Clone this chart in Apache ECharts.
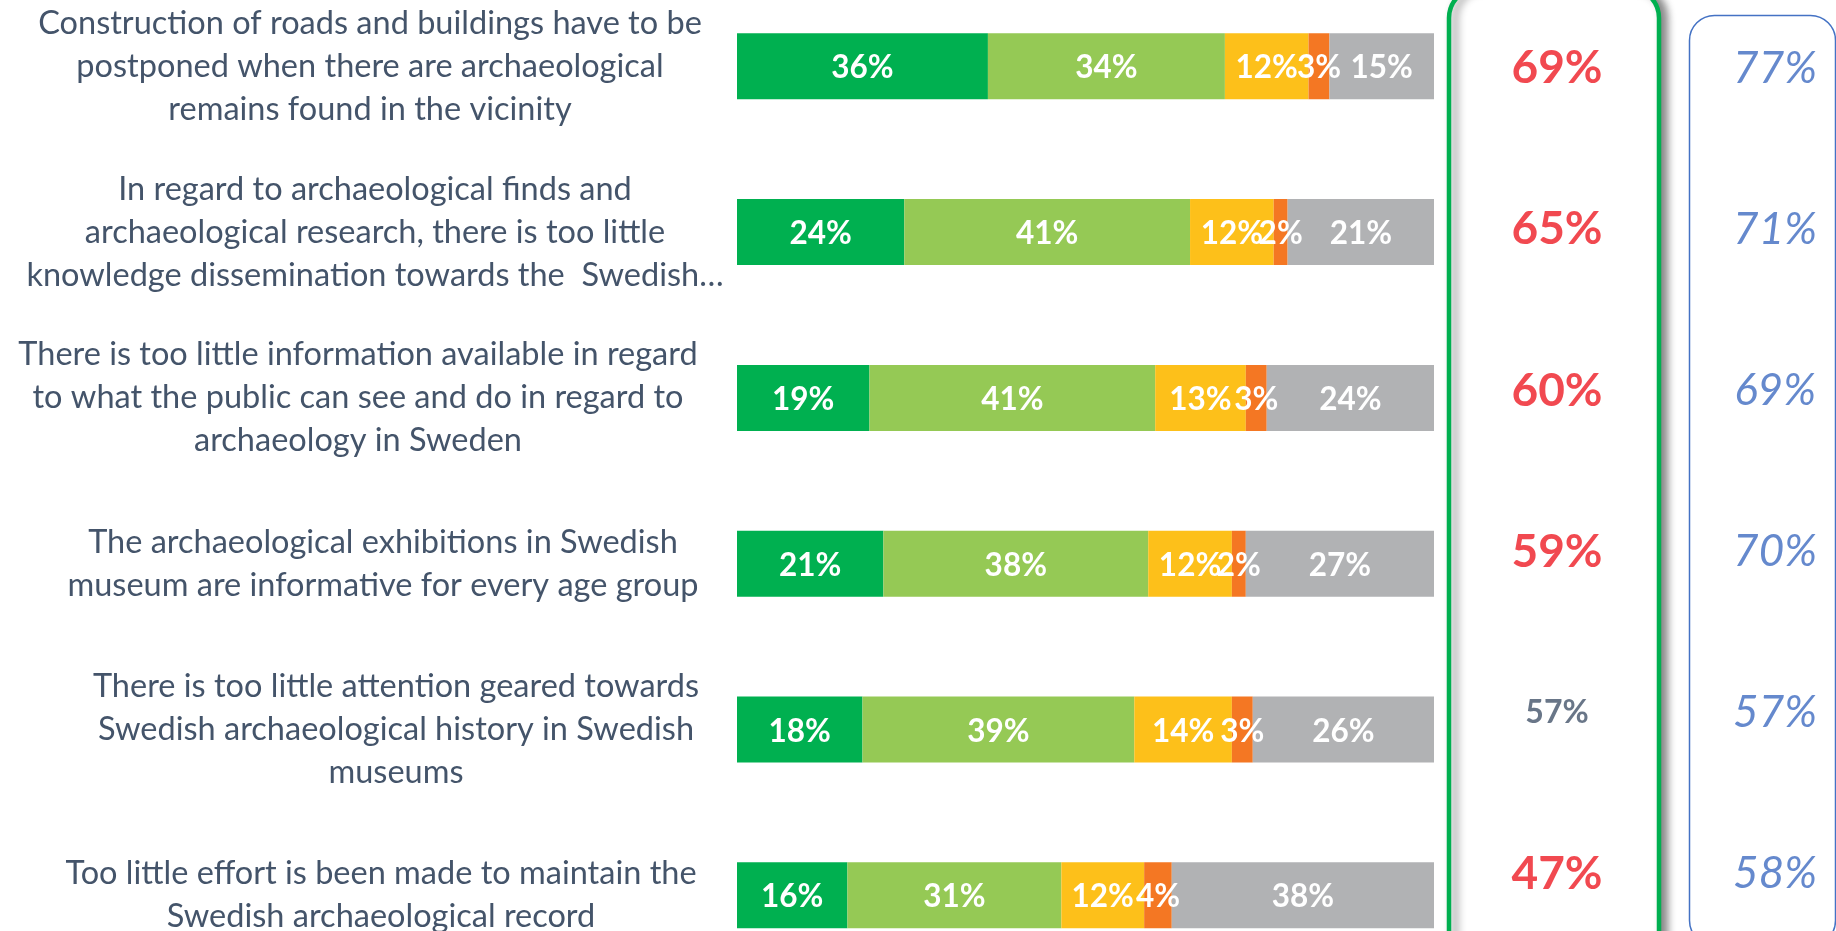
<!DOCTYPE html>
<html>
<head>
<meta charset="utf-8">
<script src="https://cdn.jsdelivr.net/npm/echarts@6/dist/echarts.min.js"></script>
<style>
html,body{margin:0;padding:0;background:#fff;}
#chart{width:1836px;height:931px;}
</style>
</head>
<body>
<div id="chart"></div>
<script>
// ---- data ----
const categories = [
  'Construction of roads and buildings have to be\npostponed when there are archaeological\nremains found in the vicinity',
  'In regard to archaeological finds and\narchaeological research, there is too little\nknowledge dissemination towards the  Swedish\u2026',
  'There is too little information available in regard\nto what the public can see and do in regard to\narchaeology in Sweden',
  'The archaeological exhibitions in Swedish\nmuseum are informative for every age group',
  'There is too little attention geared towards\nSwedish archaeological history in Swedish\nmuseums',
  'Too little effort is been made to maintain the\nSwedish archaeological record'
];
const stronglyAgree = [36, 24, 19, 21, 18, 16];
const agree         = [34, 41, 41, 38, 39, 31];
const neutral       = [12, 12, 13, 12, 14, 12];
const disagree      = [3, 2, 3, 2, 3, 4];
const dontKnow      = [15, 21, 24, 27, 26, 38];
const agreeTotal    = [69, 65, 60, 59, 57, 47];
const comparison    = [77, 71, 69, 70, 57, 58];

// ---- styling / layout ----
const segments = [
  { name: 'Strongly agree', values: stronglyAgree, color: '#00B050' },
  { name: 'Agree',          values: agree,         color: '#95C955' },
  { name: 'Neutral',        values: neutral,       color: '#FDC01A' },
  { name: 'Disagree',       values: disagree,      color: '#F47723' },
  { name: "Don't know",     values: dontKnow,      color: '#B1B2B4' }
];
const rowTotals = categories.map((_, i) => segments.reduce((s, seg) => s + seg.values[i], 0));

const FONT = 'Lato';
const labelCenters = [370, 375, 358, 383, 396, 381];
const anchorX = 396;
const gridLeft = 737, gridWidth = 697;

const yData = categories.map((c, i) => ({
  value: c,
  textStyle: { align: 'center', padding: [0, Math.round(2 * (anchorX - labelCenters[i])), 0, 0] }
}));

const barSeries = segments.map(seg => ({
  name: seg.name,
  type: 'bar',
  stack: 'total',
  xAxisIndex: 0, yAxisIndex: 0,
  barWidth: 66,
  itemStyle: { color: seg.color },
  label: {
    show: true,
    position: 'inside',
    offset: [0, 2],
    color: '#fff',
    fontFamily: FONT,
    fontWeight: 'bold',
    fontSize: 31.5,
    formatter: p => seg.values[p.dataIndex] + '%'
  },
  data: seg.values.map((v, i) => v / rowTotals[i] * 100)
}));

const colTop = -14, colHeight = 966.6;

const option = {
  animation: false,
  backgroundColor: '#fff',
  grid: [
    { left: gridLeft, width: gridWidth, top: -16.6, height: 994.8, outerBoundsMode: 'none', containLabel: false },
    { left: 1448, width: 218, top: colTop, height: colHeight, outerBoundsMode: 'none', containLabel: false },
    { left: 1689, width: 172, top: colTop, height: colHeight, outerBoundsMode: 'none', containLabel: false }
  ],
  xAxis: [
    { type: 'value', gridIndex: 0, min: 0, max: 100, show: false },
    { type: 'value', gridIndex: 1, min: 0, max: 1, show: false },
    { type: 'value', gridIndex: 2, min: 0, max: 1, show: false }
  ],
  yAxis: [
    {
      type: 'category', gridIndex: 0, inverse: true, data: yData,
      axisLine: { show: false }, axisTick: { show: false },
      axisLabel: {
        align: 'center', margin: gridLeft - anchorX,
        fontFamily: FONT, fontSize: 32.5, lineHeight: 43, color: '#44546A'
      }
    },
    { type: 'category', gridIndex: 1, inverse: true, data: categories, show: false },
    { type: 'category', gridIndex: 2, inverse: true, data: categories, show: false }
  ],
  graphic: [
    {
      type: 'rect', z: 0,
      shape: { x: 1449, y: -12, width: 210, height: 1000, r: 30 },
      style: {
        fill: '#fff', stroke: '#00B050', lineWidth: 4.5,
        shadowColor: 'rgba(0,0,0,0.45)', shadowBlur: 8, shadowOffsetX: 6, shadowOffsetY: 0
      }
    },
    {
      type: 'rect', z: 0,
      shape: { x: 1689.5, y: 15.5, width: 146, height: 930, r: 25 },
      style: { fill: 'none', stroke: '#4472C4', lineWidth: 1.5 }
    }
  ],
  series: barSeries.concat([
    {
      type: 'scatter', xAxisIndex: 1, yAxisIndex: 1,
      symbolSize: 1, itemStyle: { color: 'rgba(0,0,0,0)' }, z: 5,
      data: agreeTotal.map((v, i) => ({
        value: [0.5, i],
        label: i === 4
          ? { fontSize: 32, color: '#44546A' }
          : { fontSize: 46, color: '#ED1C24' }
      })),
      label: {
        show: true, position: 'inside', offset: [0, 2], fontFamily: FONT, fontWeight: 'bold',
        formatter: p => agreeTotal[p.dataIndex] + '%'
      }
    },
    {
      type: 'scatter', xAxisIndex: 2, yAxisIndex: 2,
      symbolSize: 1, itemStyle: { color: 'rgba(0,0,0,0)' }, z: 5,
      data: comparison.map((v, i) => [0.5, i]),
      label: {
        show: true, position: 'inside', offset: [0, 2], fontFamily: FONT, fontStyle: 'italic',
        fontSize: 44, color: '#3F6BC0',
        formatter: p => comparison[p.dataIndex] + '%'
      }
    }
  ])
};

const chart = echarts.init(document.getElementById('chart'), null, { renderer: 'canvas' });
chart.setOption(option);
</script>
</body>
</html>
